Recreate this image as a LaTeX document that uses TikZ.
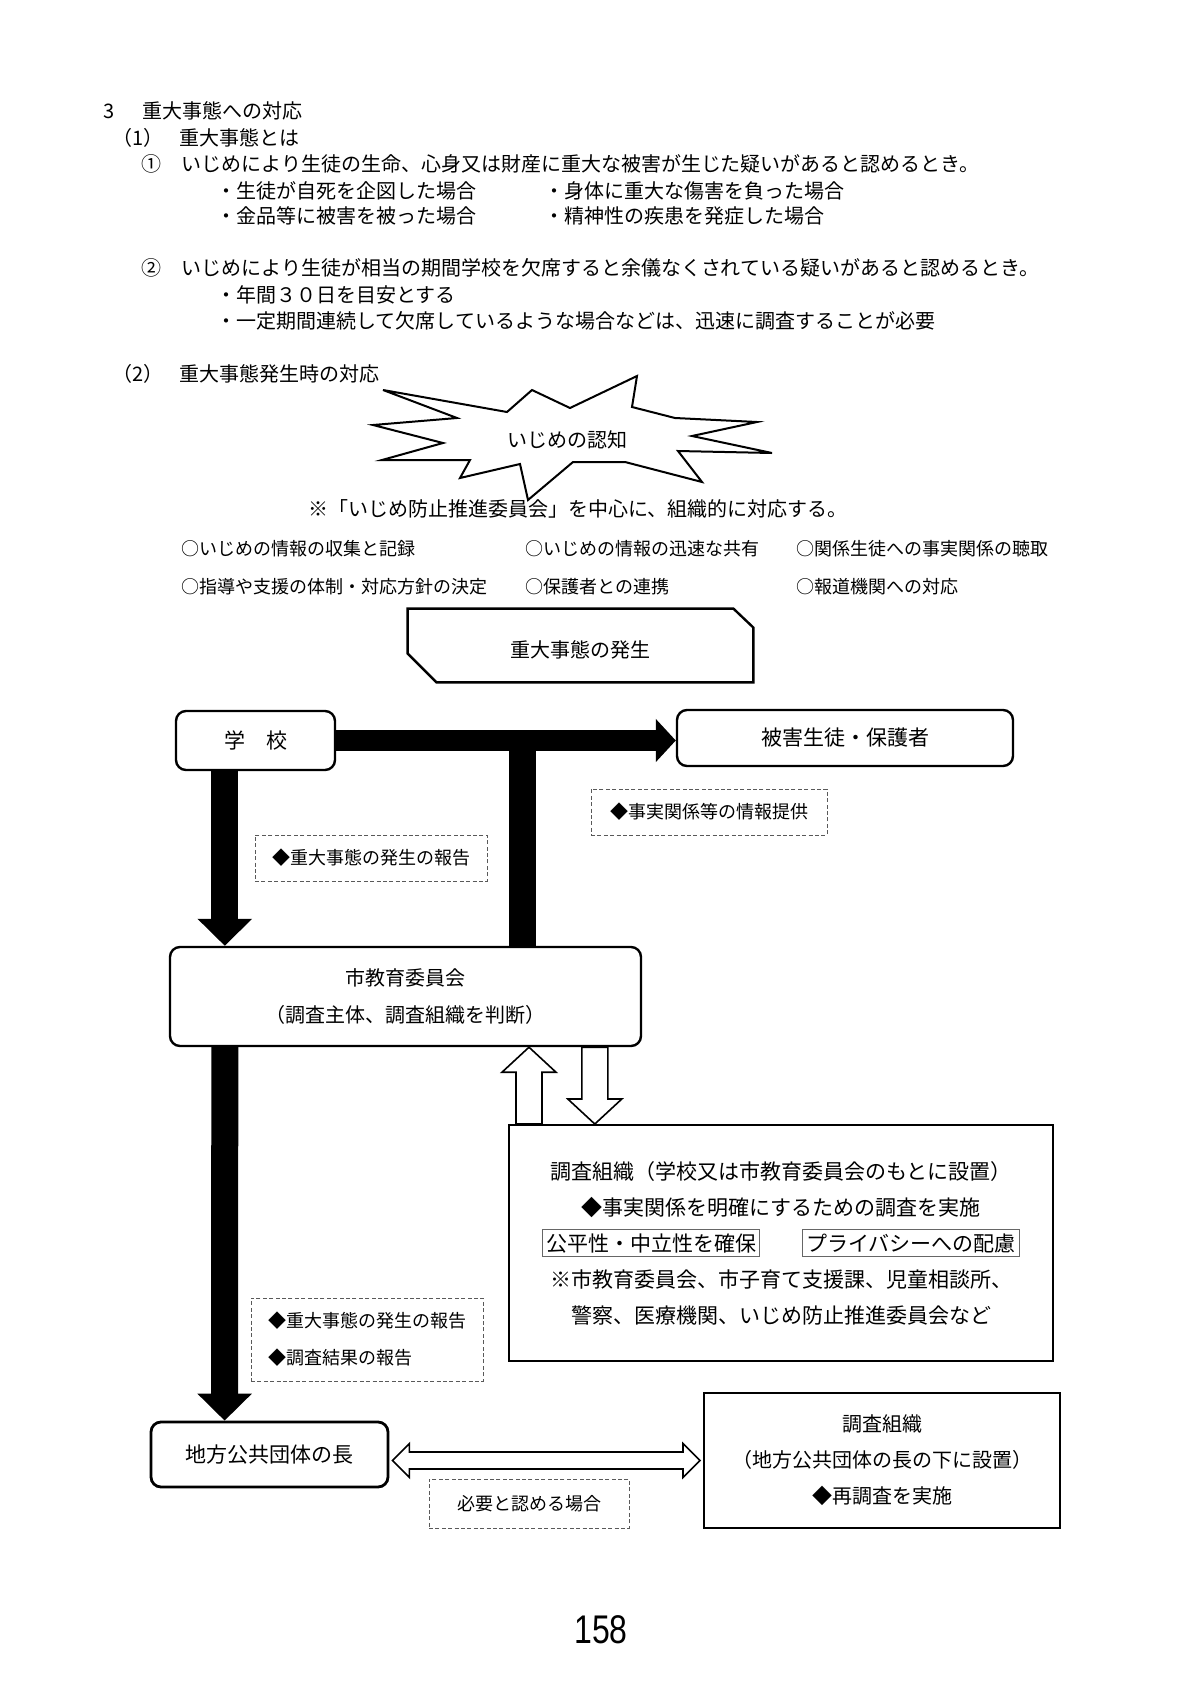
\documentclass[tikz,border=0pt]{standalone}
\usepackage{fontspec}
\usepackage{graphicx}
\setmainfont{Noto Sans CJK JP}
\newfontfamily\pagenumfont{Liberation Sans}
\usetikzlibrary{arrows.meta, calc}
\setlength{\fboxsep}{1.5pt}
\setlength{\fboxrule}{0.6pt}
\tikzset{
  txt/.style={anchor=west, inner sep=0pt, font=\fontsize{10pt}{12pt}\selectfont},
  rbox/.style={draw, line width=1.2pt, rounded corners=5pt, align=center,
    font=\fontsize{10pt}{18.5pt}\selectfont},
  sqbox/.style={draw, line width=1pt, align=center,
    font=\fontsize{10pt}{18pt}\selectfont},
  dlabel/.style={draw=black!65, dash pattern=on 2pt off 1.2pt, line width=0.5pt,
    align=left, font=\fontsize{9pt}{18.5pt}\selectfont},
  bigarrow/.style={line width=13.5pt, -{Triangle[length=13.5pt, width=26.5pt]}},
  openarr/.style={draw, line width=0.8pt, fill=white, line join=miter},
}
% hollow vertical block arrow: base, tip
\newcommand\vopenarrow[2]{%
  \draw[openarr] let \p1=(#1), \p2=(#2), \n1={sign(\y2-\y1)} in
    ({\x1-6.5pt},\y1) -- ({\x1-6.5pt},{\y2-(\n1)*12.5pt})
    -- ({\x1-13.5pt},{\y2-(\n1)*12.5pt}) -- (\x1,\y2)
    -- ({\x1+13.5pt},{\y2-(\n1)*12.5pt}) -- ({\x1+6.5pt},{\y2-(\n1)*12.5pt})
    -- ({\x1+6.5pt},\y1) -- cycle;}

\begin{document}
\begin{tikzpicture}[x=0.5pt, y=-0.5pt]
\useasboundingbox (0,0) rectangle (1200,1697);

% section text
\node[txt] (h3) at (103,111) {3\hspace{14pt}重大事態への対応};
\node[txt] (h31) at (112,138) {（1）\hspace{8pt}重大事態とは};
\node[txt] (c1) at (141,164) {①　いじめにより生徒の生命、心身又は財産に重大な被害が生じた疑いがあると認めるとき。};
\node[txt] (c1a) at (216,191) {・生徒が自死を企図した場合};
\node[txt] (c1b) at (544,191) {・身体に重大な傷害を負った場合};
\node[txt] (c1c) at (216,216) {・金品等に被害を被った場合};
\node[txt] (c1d) at (544,216) {・精神性の疾患を発症した場合};
\node[txt] (c2) at (141,268) {②　いじめにより生徒が相当の期間学校を欠席すると余儀なくされている疑いがあると認めるとき。};
\node[txt] (c2a) at (216,295) {・年間３０日を目安とする};
\node[txt] (c2b) at (216,321) {・一定期間連続して欠席しているような場合などは、迅速に調査することが必要};
\node[txt] (h32) at (112,374) {（2）\hspace{8pt}重大事態発生時の対応};

% starburst
\draw[line width=1pt, line join=miter] (383,390) -- (507,412) -- (532,390) -- (570,408)
  -- (637,376) -- (632,407) -- (675,418) -- (757,422) -- (692,436) -- (772,453)
  -- (678,451) -- (702,482) -- (625,462) -- (573,462) -- (528,500) -- (520,464)
  -- (460,478) -- (470,460) -- (382,460) -- (443,443) -- (373,425) -- (457,418) -- cycle;
\node[txt, anchor=center] (recog) at (567,440) {いじめの認知};

\node[txt] (note) at (308,509) {※「いじめ防止推進委員会」を中心に、組織的に対応する。};
\foreach \x/\y/\t [count=\i] in {181/549/○いじめの情報の収集と記録,
    525/549/○いじめの情報の迅速な共有, 796/549/○関係生徒への事実関係の聴取,
    181/587/○指導や支援の体制・対応方針の決定, 525/587/○保護者との連携,
    796/587/○報道機関への対応} {
  \node[txt, font=\fontsize{9pt}{11pt}\selectfont] (item\i) at (\x,\y) {\t};
}

% flow
\node[inner sep=0pt, minimum width=172.5pt, minimum height=36.5pt, text height=12.1pt, text depth=0pt,
  font=\fontsize{10pt}{12pt}\selectfont] (occur) at (580.5,645.5) {重大事態の発生};
\draw[line width=1.2pt, line join=miter] (occur.north west) -- ([xshift=-10pt]occur.north east)
  -- ([yshift=-9.5pt]occur.north east) -- (occur.south east)
  -- ([xshift=14.5pt]occur.south west) -- ([yshift=14.5pt]occur.south west) -- cycle;

\node[rbox, minimum width=79.5pt, minimum height=29.5pt,
  font=\fontsize{10.5pt}{12pt}\selectfont] (school) at (255.5,740.5) {学　校};
\node[rbox, minimum width=168pt, minimum height=28pt,
  font=\fontsize{10.5pt}{12pt}\selectfont] (victim) at (845,738) {被害生徒・保護者};
\node[rbox, minimum width=235.5pt, minimum height=49.5pt] (board) at (405.5,996.5)
  {市教育委員会\\（調査主体、調査組織を判断）};
\node[sqbox, minimum width=272pt, minimum height=118pt,
  font=\fontsize{10.5pt}{18pt}\selectfont] (org) at (781,1243)
  {調査組織（学校又は市教育委員会のもとに設置）\\
   ◆事実関係を明確にするための調査を実施\\
   \fcolorbox{black!60}{white}{公平性・中立性を確保}　　\fcolorbox{black!60}{white}{プライバシーへの配慮}\\
   ※市教育委員会、市子育て支援課、児童相談所、\\
   警察、医療機関、いじめ防止推進委員会など};
\node[rbox, line width=1.4pt, minimum width=118.5pt, minimum height=32.5pt,
  font=\fontsize{10.5pt}{12pt}\selectfont] (mayor) at (269.5,1454.5) {地方公共団体の長};
\node[sqbox, minimum width=178pt, minimum height=67.5pt] (org2) at (882,1460.5)
  {調査組織\\（地方公共団体の長の下に設置）\\◆再調査を実施};

\node[dlabel, minimum width=118pt, minimum height=23pt] (lblinfo) at (709,812) {◆事実関係等の情報提供};
\node[dlabel, minimum width=116pt, minimum height=23pt] (lblrep) at (371,858) {◆重大事態の発生の報告};
\node[dlabel, minimum width=116pt, minimum height=41.5pt] (lblres) at (367,1339.5)
  {◆重大事態の発生の報告\\◆調査結果の報告};
\node[dlabel, minimum width=100pt, minimum height=24.5pt] (lblneed) at (529,1503.5) {必要と認める場合};

% black arrows
\coordinate (tee) at (522.5,742);
\draw[line width=13.5pt] (tee) -- (tee |- board.north);
\draw[line width=10.5pt, -{Triangle[length=10pt, width=21pt]}] (school.east) -- (school.east -| victim.west);
\draw[bigarrow] ([xshift=25pt]school.south west) -- ([xshift=28pt]board.north west);
\draw[bigarrow] ([xshift=28pt]board.south west) -- ([xshift=37.5pt]mayor.north west);

% hollow arrows
\coordinate (upbase) at ([xshift=10.5pt]org.north west);
\coordinate (uptip) at (upbase |- board.south);
\vopenarrow{upbase}{uptip}
\coordinate (dnbase) at ([xshift=213pt]board.south west);
\coordinate (dntip) at (dnbase |- org.north);
\vopenarrow{dnbase}{dntip}
\draw[openarr] let \p1=([xshift=1.5pt]mayor.east), \p2=([xshift=-1.5pt]org2.west) in
  (\x1,\y2) -- ({\x1+8.5pt},{\y2+8.5pt}) -- ({\x1+8.5pt},{\y2+4.25pt})
  -- ({\x2-8.5pt},{\y2+4.25pt}) -- ({\x2-8.5pt},{\y2+8.5pt}) -- (\x2,\y2)
  -- ({\x2-8.5pt},{\y2-8.5pt}) -- ({\x2-8.5pt},{\y2-4.25pt})
  -- ({\x1+8.5pt},{\y2-4.25pt}) -- ({\x1+8.5pt},{\y2-8.5pt}) -- cycle;

\node[inner sep=0pt, font=\pagenumfont\fontsize{20pt}{20pt}\selectfont] (pagenum) at (601,1630)
  {\scalebox{0.8}[1]{158}};
\end{tikzpicture}
\end{document}
